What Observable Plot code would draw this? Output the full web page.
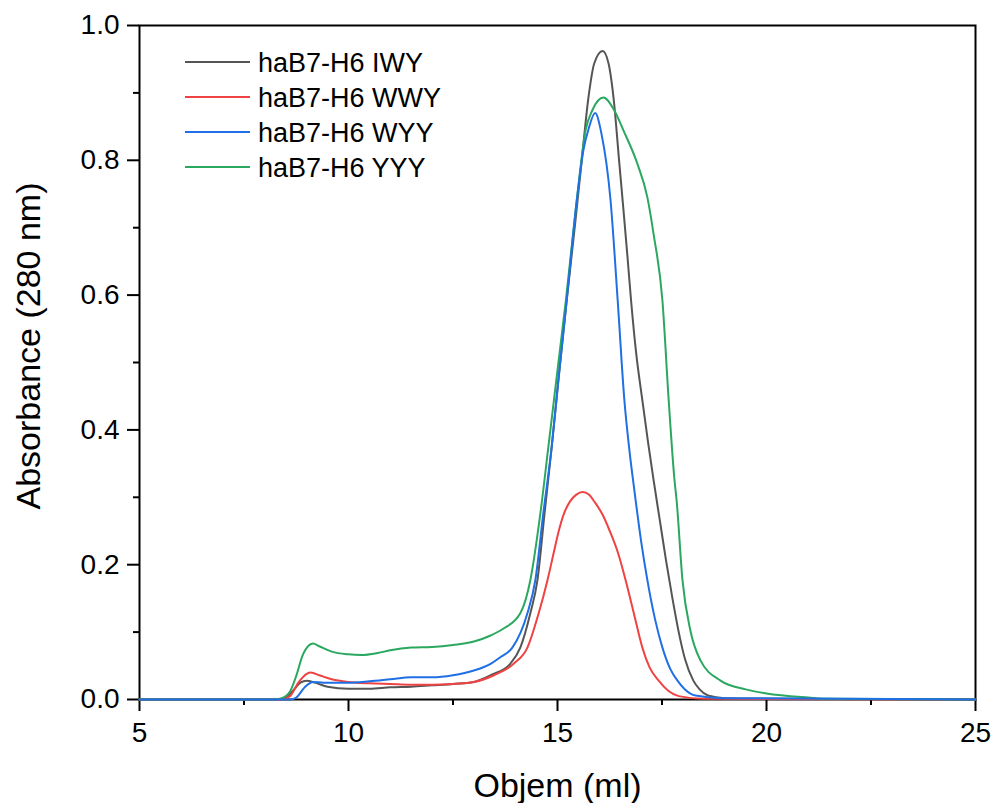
<!DOCTYPE html>
<html>
<head>
<meta charset="utf-8">
<script src="https://cdn.jsdelivr.net/npm/d3@7"></script>
<script src="https://cdn.jsdelivr.net/npm/@observablehq/plot@0.6"></script>
<style>
  html, body { margin: 0; padding: 0; background: #fff; }
  svg { display: block; }
</style>
</head>
<body>
<div id="chart"></div>
<script>
// ---- Data ----
const seriesNames = ["haB7-H6 IWY", "haB7-H6 WWY", "haB7-H6 WYY", "haB7-H6 YYY"];
const seriesColors = ["#555555", "#ef4343", "#1f6fe5", "#2aa860"];

const iwyX = [5, 8.3, 8.5, 8.7, 8.85, 9.0, 9.2, 9.5, 10.0, 10.5, 11.0, 11.5, 12.0, 12.5, 13.0, 13.4, 13.87, 14.11, 14.35, 14.52, 14.69, 14.86, 15.02, 15.22, 15.42, 15.58, 15.74, 15.88, 16.08, 16.22, 16.34, 16.48, 16.58, 16.67, 16.76, 16.88, 17.03, 17.17, 17.30, 17.45, 17.60, 17.75, 17.90, 18.05, 18.25, 18.4, 18.6, 19.0, 20.0, 25];
const iwyY = [0, 0, 0.003, 0.015, 0.025, 0.028, 0.025, 0.019, 0.016, 0.016, 0.018, 0.019, 0.021, 0.023, 0.026, 0.036, 0.053, 0.077, 0.128, 0.177, 0.276, 0.374, 0.473, 0.592, 0.705, 0.800, 0.893, 0.944, 0.962, 0.944, 0.893, 0.795, 0.725, 0.660, 0.592, 0.515, 0.444, 0.380, 0.325, 0.265, 0.205, 0.150, 0.100, 0.060, 0.028, 0.015, 0.006, 0.002, 0.001, 0];

const wwyX = [5, 8.4, 8.6, 8.8, 9.0, 9.1, 9.3, 9.6, 10.0, 10.5, 11.0, 11.5, 12.0, 12.5, 13.0, 13.48, 13.95, 14.28, 14.55, 14.76, 14.9, 15.03, 15.15, 15.3, 15.45, 15.6, 15.75, 15.9, 16.08, 16.25, 16.45, 16.63, 16.83, 17.03, 17.2, 17.42, 17.65, 17.9, 18.5, 25];
const wwyY = [0, 0, 0.005, 0.025, 0.038, 0.040, 0.036, 0.030, 0.026, 0.024, 0.023, 0.022, 0.022, 0.023, 0.026, 0.036, 0.053, 0.077, 0.128, 0.177, 0.215, 0.250, 0.275, 0.294, 0.304, 0.308, 0.304, 0.292, 0.274, 0.250, 0.217, 0.177, 0.127, 0.077, 0.048, 0.028, 0.013, 0.005, 0.001, 0];

const wyyX = [5, 8.6, 8.75, 8.95, 9.15, 9.4, 10.0, 10.5, 11.0, 11.5, 12.0, 12.5, 13.0, 13.4, 13.64, 13.92, 14.28, 14.47, 14.66, 14.86, 15.02, 15.22, 15.46, 15.62, 15.75, 15.9, 16.05, 16.27, 16.44, 16.6, 16.72, 16.85, 17.0, 17.15, 17.33, 17.51, 17.7, 17.87, 18.05, 18.3, 19.0, 25];
const wyyY = [0, 0, 0.003, 0.018, 0.026, 0.025, 0.025, 0.027, 0.030, 0.033, 0.033, 0.036, 0.043, 0.053, 0.063, 0.077, 0.128, 0.177, 0.276, 0.374, 0.473, 0.592, 0.740, 0.815, 0.848, 0.870, 0.840, 0.740, 0.592, 0.444, 0.370, 0.305, 0.235, 0.177, 0.120, 0.077, 0.045, 0.028, 0.015, 0.006, 0.002, 0];

const yyyX = [5, 8.2, 8.4, 8.6, 8.75, 8.9, 9.05, 9.15, 9.3, 9.6, 10.0, 10.3, 10.7, 11.0, 11.5, 12.0, 12.5, 13.0, 13.4, 13.7, 14.11, 14.35, 14.59, 14.78, 14.97, 15.2, 15.46, 15.67, 15.84, 16.1, 16.35, 16.58, 16.91, 17.15, 17.3, 17.51, 17.66, 17.8, 17.85, 17.99, 18.18, 18.42, 18.9, 19.5, 20.0, 21.0, 21.5, 25];
const yyyY = [0, 0, 0.002, 0.012, 0.035, 0.065, 0.080, 0.083, 0.079, 0.071, 0.067, 0.066, 0.069, 0.073, 0.077, 0.078, 0.081, 0.086, 0.095, 0.105, 0.128, 0.177, 0.276, 0.374, 0.473, 0.592, 0.740, 0.844, 0.875, 0.893, 0.875, 0.844, 0.795, 0.745, 0.690, 0.592, 0.444, 0.325, 0.295, 0.177, 0.102, 0.058, 0.028, 0.015, 0.009, 0.003, 0.001, 0];

const xMajorTicks = [5, 10, 15, 20, 25];
const xMinorTicks = [7.5, 12.5, 17.5, 22.5];
const yMajorTicks = [0, 0.2, 0.4, 0.6, 0.8, 1.0];
const yMinorTicks = [0.1, 0.3, 0.5, 0.7, 0.9];
const xTitle = "Objem (ml)";
const yTitle = "Absorbance (280 nm)";

// ---- Build table ----
const seriesXs = [iwyX, wwyX, wyyX, yyyX];
const seriesYs = [iwyY, wwyY, wyyY, yyyY];
const rows = [];
seriesNames.forEach((name, i) => {
  seriesXs[i].forEach((x, j) => rows.push({series: name, x, y: seriesYs[i][j]}));
});
// drawing order: IWY, WWY, YYY, WYY (blue on top at the baseline)
const drawOrder = [0, 1, 3, 2];

const font = "'Liberation Sans', Arial, Helvetica, sans-serif";
const W = 993, H = 803, mL = 139, mR = 18, mT = 25, mB = 104;

const plot = Plot.plot({
  width: W,
  height: H,
  marginLeft: mL,
  marginRight: mR,
  marginTop: mT,
  marginBottom: mB,
  style: {fontFamily: font, background: "white", color: "black"},
  x: {domain: [5, 25]},
  y: {domain: [0, 1]},
  color: {domain: seriesNames, range: seriesColors},
  marks: [
    Plot.frame({stroke: "black", strokeWidth: 2}),
    Plot.axisX({ticks: xMajorTicks, tickSize: 12, tickPadding: 11, fontSize: 28, strokeWidth: 2, label: null, tickFormat: d => String(d)}),
    Plot.axisX({ticks: xMinorTicks, tickSize: 6, strokeWidth: 2, label: null, tickFormat: () => ""}),
    Plot.axisY({ticks: yMajorTicks, tickSize: 12, tickPadding: 8, fontSize: 28, strokeWidth: 2, label: null, tickFormat: d3.format(".1f")}),
    Plot.axisY({ticks: yMinorTicks, tickSize: 6, strokeWidth: 2, label: null, tickFormat: () => ""}),
    ...drawOrder.map(i => Plot.line(rows.filter(r => r.series === seriesNames[i]), {
      x: "x", y: "y", stroke: "series", strokeWidth: 2, curve: "monotone-x"
    })),
    Plot.text([xTitle], {text: d => d, frameAnchor: "bottom", lineAnchor: "top", dy: 73, fontSize: 34})
  ]
});

// ---- Y title & legend ----
const svg = d3.select(plot);
svg.append("text")
  .attr("transform", `translate(40,${(mT + H - mB) / 2 - 16}) rotate(-90)`)
  .attr("text-anchor", "middle")
  .attr("font-family", font)
  .attr("font-size", 34)
  .attr("fill", "black")
  .text(yTitle);

const color = plot.scale("color");
const lg = svg.append("g").attr("font-family", font).attr("font-size", 27).attr("text-anchor", "start");
seriesNames.forEach((name, i) => {
  const yy = 62 + i * 35;
  lg.append("line")
    .attr("x1", 185).attr("x2", 250).attr("y1", yy).attr("y2", yy)
    .attr("stroke", color.apply(name)).attr("stroke-width", 2);
  lg.append("text")
    .attr("x", 258).attr("y", yy + 10)
    .attr("fill", "black")
    .text(name);
});

document.getElementById("chart").appendChild(plot);
</script>
</body>
</html>
